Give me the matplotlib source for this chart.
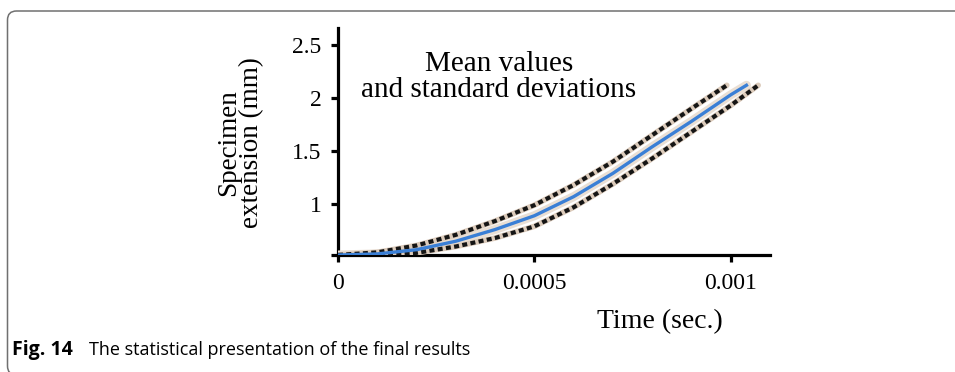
import matplotlib
matplotlib.use("Agg")
import matplotlib.pyplot as plt
from matplotlib.patches import FancyBboxPatch

# ---- data ----
t_mean = [0, 0.0001, 0.0002, 0.0003, 0.0004, 0.0005, 0.0006, 0.0007, 0.0008, 0.0009, 0.001, 0.00104]
ext_mean = [0.52, 0.53, 0.57, 0.65, 0.76, 0.89, 1.07, 1.29, 1.54, 1.78, 2.03, 2.12]

t_upper = [0, 0.0001, 0.0002, 0.0003, 0.0004, 0.0005, 0.0006, 0.0007, 0.0008, 0.0009, 0.00099]
ext_upper = [0.52, 0.545, 0.61, 0.71, 0.84, 0.99, 1.18, 1.40, 1.65, 1.90, 2.12]

t_lower = [0, 0.0001, 0.0002, 0.0003, 0.0004, 0.0005, 0.0006, 0.0007, 0.0008, 0.0009, 0.001, 0.00107]
ext_lower = [0.52, 0.52, 0.54, 0.60, 0.68, 0.79, 0.97, 1.19, 1.43, 1.68, 1.93, 2.12]

x_ticks = [0, 0.0005, 0.001]
x_ticklabels = ["0", "0.0005", "0.001"]
y_ticks = [0.52, 1, 1.5, 2, 2.5]
y_ticklabels = ["", "1", "1.5", "2", "2.5"]

annotation = "Mean values\nand standard deviations"
x_label = "Time (sec.)"
y_label = "Specimen\nextension (mm)"
caption_bold = "Fig. 14"
caption_text = "The statistical presentation of the final results"

# ---- figure ----
W, H = 955, 372
DPI = 100
fig = plt.figure(figsize=(W / DPI, H / DPI), dpi=DPI)
fig.patch.set_facecolor("white")

serif = "Liberation Serif"

def fx(px):
    return px / W

def fy(py):
    return 1 - py / H

ax_l, ax_r, ax_t, ax_b = 338, 770, 28, 255
ax = fig.add_axes([fx(ax_l), fy(ax_b), (ax_r - ax_l) / W, (ax_b - ax_t) / H])
ax.set_xlim(0, 0.0011)
ax.set_ylim(0.52, 2.66)

for s in ["top", "right"]:
    ax.spines[s].set_visible(False)
for s in ["left", "bottom"]:
    ax.spines[s].set_linewidth(2.3)
    ax.spines[s].set_color("black")

tan = "#dccbbb"
# light halo around the mean line fills the band interior
ax.plot(t_mean, ext_mean, color="#eadfd4", lw=6.5, solid_capstyle="round", zorder=3)
# standard deviation lines: tan base with black dashes
for tt, yy in [(t_upper, ext_upper), (t_lower, ext_lower)]:
    ax.plot(tt, yy, color=tan, lw=4.0, solid_capstyle="round", zorder=3.5)
    ax.plot(tt, yy, color="#151515", lw=3.0, linestyle=(0, (1.2, 0.8)),
            dash_capstyle="butt", zorder=4)
# mean
ax.plot(t_mean, ext_mean, color="#3a7fd6", lw=2.4, zorder=6)

ax.set_xticks(x_ticks)
ax.set_xticklabels(x_ticklabels, fontfamily=serif, fontsize=17)
ax.set_yticks(y_ticks)
ax.set_yticklabels(y_ticklabels, fontfamily=serif, fontsize=17)
ax.tick_params(axis="both", direction="out", length=5, width=2.3, color="black")
ax.tick_params(axis="x", pad=8)
ax.tick_params(axis="y", pad=7)

# annotation inside plot
fig.text(fx(499), fy(77), annotation, ha="center", va="center",
         fontfamily=serif, fontsize=21, linespacing=0.98)

# axis labels
fig.text(fx(660), fy(322), x_label, ha="center", va="center",
         fontfamily=serif, fontsize=20)
fig.text(fx(240), fy(143), y_label, ha="center", va="center", rotation=90,
         multialignment="center", fontfamily=serif, fontsize=19.5, linespacing=0.92)

# caption
fig.text(fx(12), fy(350), caption_bold, ha="left", va="center",
         fontfamily="Open Sans", fontweight="bold", fontsize=14)
fig.text(fx(89), fy(350), caption_text, ha="left", va="center",
         fontfamily="Open Sans", fontsize=13)

# rounded frame (right and bottom edges fall outside the image)
frame = FancyBboxPatch((7.5, -3), 1100, H - 11 + 3,
                       boxstyle="round,pad=0,rounding_size=9",
                       fill=False, edgecolor="#707070", linewidth=1.1,
                       transform=None, figure=fig)
fig.patches.append(frame)

fig.savefig("out.png", dpi=DPI, facecolor="white")
